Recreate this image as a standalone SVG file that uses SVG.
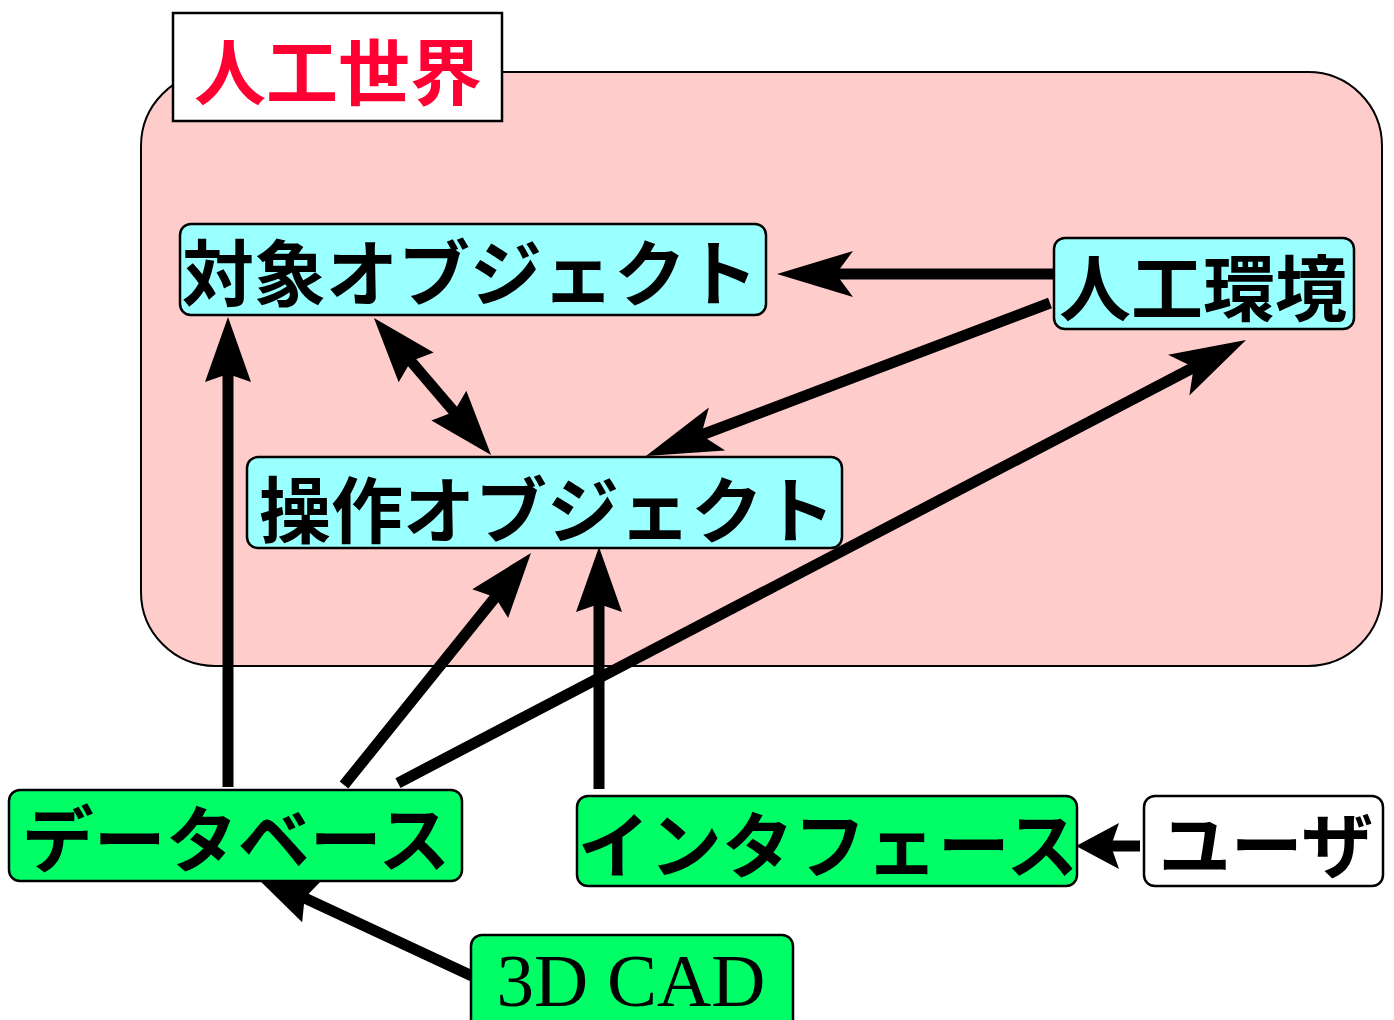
<svg xmlns="http://www.w3.org/2000/svg" width="1394" height="1020" viewBox="0 0 1394 1020">
<style>
.node{stroke:#000;stroke-width:2.5}
.cyan{fill:#99ffff}
.green{fill:#00ff66}
.white{fill:#ffffff}
.jp{font-family:"Noto Sans CJK JP","Noto Sans",sans-serif;font-weight:bold;font-size:72px;fill:#000;text-anchor:middle}
.en{font-family:"Liberation Serif",serif;font-size:75px;fill:#000;text-anchor:middle}
.conn line{stroke:#000;stroke-width:11;fill:none}
</style>
<defs>
<marker id="big" markerUnits="userSpaceOnUse" viewBox="-80 -25 82 50" markerWidth="82" markerHeight="50" refX="-55" refY="0" orient="auto">
<path d="M0,0 L-76,-23 L-59,0 L-76,23 Z" fill="#000"/>
</marker>
<marker id="std" markerUnits="userSpaceOnUse" viewBox="-80 -25 82 50" markerWidth="82" markerHeight="50" refX="-54" refY="0" orient="auto-start-reverse">
<path d="M0,0 L-65,-23 L-57,0 L-65,23 Z" fill="#000"/>
</marker>
<marker id="small" markerUnits="userSpaceOnUse" viewBox="-80 -25 82 50" markerWidth="82" markerHeight="50" refX="-32" refY="0" orient="auto">
<path d="M0,0 L-43,-23 L-35,0 L-43,23 Z" fill="#000"/>
</marker>
</defs>
<g id="world">
<rect x="141" y="72" width="1241" height="594" rx="74" ry="74" fill="#ffcccc" stroke="#000" stroke-width="2"/>
</g>
<g id="world-title">
<rect x="173" y="13" width="329" height="108" fill="#ffffff" stroke="#000" stroke-width="2.5"/>
<text x="338" y="99" class="jp" style="fill:#ff0033">人工世界</text>
</g>
<g id="connectors" class="conn">
<line x1="1062" y1="274" x2="832" y2="274" marker-end="url(#big)"/>
<line x1="1050" y1="303" x2="697.4" y2="436.5" marker-end="url(#big)"/>
<line x1="398" y1="783" x2="1197.3" y2="365.5" marker-end="url(#big)"/>
<line x1="409" y1="359" x2="456" y2="414" marker-start="url(#std)" marker-end="url(#std)"/>
<line x1="228" y1="787" x2="228" y2="371" marker-end="url(#std)"/>
<line x1="344" y1="785" x2="497.1" y2="595" marker-end="url(#std)"/>
<line x1="599" y1="789" x2="599" y2="601" marker-end="url(#std)"/>
<line x1="1140" y1="846" x2="1108" y2="846" marker-end="url(#small)"/>
<line x1="472" y1="976" x2="301.9" y2="896.8" marker-end="url(#std)"/>
</g>
<g id="taisho">
<rect class="node cyan" x="180" y="224" width="586" height="91" rx="11"/>
<text class="jp" x="470" y="300">対象オブジェクト</text>
</g>
<g id="kankyo">
<rect class="node cyan" x="1054" y="238" width="300" height="91" rx="11"/>
<text class="jp" x="1203" y="315">人工環境</text>
</g>
<g id="sosa">
<rect class="node cyan" x="247" y="457" width="595" height="91" rx="11"/>
<text class="jp" x="547" y="537">操作オブジェクト</text>
</g>
<g id="database">
<rect class="node green" x="9" y="790" width="453" height="91" rx="11"/>
<text class="jp" x="236" y="866">データベース</text>
</g>
<g id="interface">
<rect class="node green" x="577" y="796" width="500" height="90" rx="11"/>
<text class="jp" x="828" y="872">インタフェース</text>
</g>
<g id="user">
<rect class="node white" x="1144" y="796" width="239" height="90" rx="11"/>
<text class="jp" x="1266" y="872">ユーザ</text>
</g>
<g id="cad">
<rect class="node green" x="471" y="935" width="322" height="100" rx="11"/>
<text class="en" x="631" y="1006">3D CAD</text>
</g>
</svg>
